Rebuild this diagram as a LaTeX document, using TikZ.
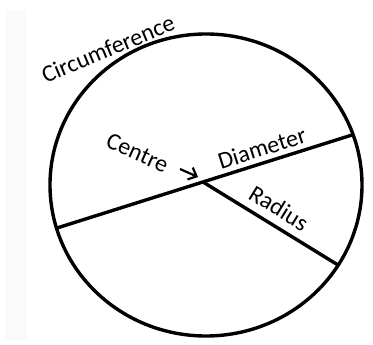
\documentclass[tikz,border=0pt]{standalone}
\usepackage{fontspec}
\setmainfont{Carlito}
\usetikzlibrary{arrows.meta}
\begin{document}
\begin{tikzpicture}[x=1pt,y=-1pt,
  lbl/.style={inner sep=0pt, font=\fontsize{24}{24}\selectfont},
  thick line/.style={line width=3.4pt}]
\useasboundingbox (0,0) rectangle (373,345);
\fill[black!2] (5,10) rectangle (27,340);
\coordinate (O) at (206,185);
\draw[thick line] (O) ellipse [x radius=156, y radius=151];
\coordinate (C) at (203,182);
\coordinate (DL) at (57,228);
\coordinate (DR) at (352,135);
\coordinate (RE) at (338,265);
\draw[thick line] (DL) -- (DR);
\draw[thick line] (C) -- (RE);
\node[lbl, rotate=22.6] (circ) at (108,49) {Circumference};
\node[lbl, rotate=-24] (centre) at (137.5,153) {Centre};
\node[lbl, rotate=17.5] (diam) at (262,148) {Diameter};
\node[lbl, rotate=-31.6] (rad) at (279,208) {Radius};
\coordinate (at) at (180,169);
\coordinate (ah) at (198,177);
\draw[line width=2.2pt, -{Straight Barb[length=7pt,width=13pt]}] (at) -- (ah);
\end{tikzpicture}
\end{document}
